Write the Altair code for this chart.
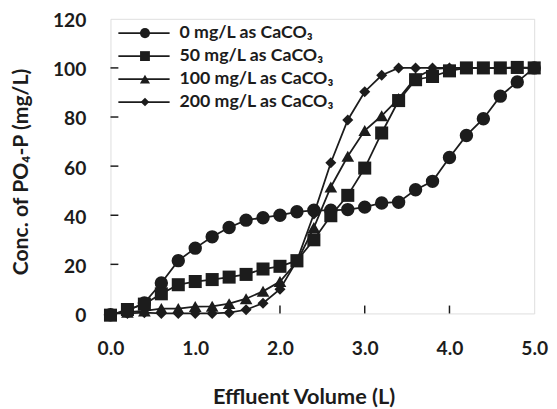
import altair as alt
import pandas as pd

# ---------------- data ----------------
volume = [0.0, 0.2, 0.4, 0.6, 0.8, 1.0, 1.2, 1.4, 1.6, 1.8, 2.0, 2.2, 2.4,
          2.6, 2.8, 3.0, 3.2, 3.4, 3.6, 3.8, 4.0, 4.2, 4.4, 4.6, 4.8, 5.0]

series_names = ["0 mg/L as CaCO₃", "50 mg/L as CaCO₃",
                "100 mg/L as CaCO₃", "200 mg/L as CaCO₃"]

conc_0 = [-0.5, 1.0, 4.3, 12.4, 21.5, 26.6, 31.2, 35.0, 38.0, 39.0, 40.0, 41.4, 42.0,
          42.0, 42.3, 43.3, 45.0, 45.3, 50.4, 53.8, 63.5, 72.5, 79.3, 88.5, 94.3, 100.0]
conc_50 = [-0.7, 1.6, 3.8, 8.0, 11.7, 13.0, 13.8, 14.8, 15.9, 18.1, 19.2, 21.5, 30.0,
           39.8, 48.1, 59.2, 73.5, 86.7, 95.2, 96.5, 98.8, 100.0, 100.0, 100.0, 100.2, 100.0]
conc_100 = [0.0, 0.5, 1.0, 2.0, 2.0, 2.8, 2.9, 4.0, 6.0, 9.0, 13.0, 21.0, 35.0,
            51.5, 64.0, 74.5, 80.5, 87.5, 96.0, 99.5, 100.0, 100.0, 100.0, 100.0, 100.0, 100.0]
conc_200 = [0.0, 0.0, 0.3, 0.0, 0.0, 0.0, 0.0, 0.3, 1.5, 4.2, 9.9, 21.5, 40.5,
            61.4, 78.8, 90.3, 97.0, 100.0, 100.0, 100.0, 100.0, 100.0, 100.0, 100.0, 100.0, 100.0]

x_ticks = [0.0, 1.0, 2.0, 3.0, 4.0, 5.0]
y_ticks = [0, 20, 40, 60, 80, 100, 120]
x_inner_ticks = [1.0, 2.0, 3.0, 4.0]
y_inner_ticks = [20, 40, 60, 80, 100]

# ---------------- styling ----------------
INK = "#1c1c1c"
FONT = "Lato"
W, H = 430, 299

series_values = [conc_0, conc_50, conc_100, conc_200]
shapes = {series_names[0]: "circle", series_names[1]: "square",
          series_names[2]: "triangle-up", series_names[3]: "diamond"}
sizes = {series_names[0]: 185, series_names[1]: 175,
         series_names[2]: 165, series_names[3]: 125}
legend_sizes = {series_names[0]: 105, series_names[1]: 100,
                series_names[2]: 105, series_names[3]: 75}

rows = []
for name, vals in zip(series_names, series_values):
    for v, c in zip(volume, vals):
        rows.append({"series": name, "volume": v, "conc": c})
df = pd.DataFrame(rows)

x_scale = alt.Scale(domain=[0, 5], nice=False, zero=False)
y_scale = alt.Scale(domain=[0, 120], nice=False, zero=False)

x_axis = alt.Axis(values=x_ticks, format=".1f", grid=False, domain=False,
                  ticks=False, tickSize=0, labelFont=FONT, labelFontWeight="bold",
                  labelFontSize=19.5, labelColor=INK, labelBaseline="alphabetic",
                  labelPadding=42, labelFlush=False, labelOverlap=False,
                  title="Effluent Volume (L)", titleFont=FONT, titleFontSize=22,
                  titleFontWeight="bold", titleColor=INK, titleBaseline="alphabetic",
                  titleAlign="center", titleX=196, titleY=91.5)
y_axis = alt.Axis(values=y_ticks, format="d", grid=False, domain=False,
                  ticks=False, tickSize=0, labelFont=FONT, labelFontWeight="bold",
                  labelFontSize=19.5, labelColor=INK, labelBaseline="middle",
                  labelOffset=2, labelPadding=25, labelFlush=False,
                  labelOverlap=False,
                  title="Conc. of PO₄-P (mg/L)", titleFont=FONT, titleFontSize=21.5,
                  titleFontWeight="bold", titleColor=INK, titleAngle=270,
                  titleBaseline="alphabetic", titleAlign="center",
                  titleX=-84, titleY=155)


def X(field):
    return alt.X(field, scale=x_scale, axis=x_axis)


def Y(field):
    return alt.Y(field, scale=y_scale, axis=y_axis)


# inward tick marks
x_tick_layer = alt.Chart(pd.DataFrame({"volume": x_inner_ticks})).mark_rule(
    color=INK, strokeWidth=1.5
).encode(x=X("volume:Q"), y=alt.value(H), y2=alt.value(H - 8))
y_tick_layer = alt.Chart(pd.DataFrame({"conc": y_inner_ticks})).mark_rule(
    color=INK, strokeWidth=1.5
).encode(y=Y("conc:Q"), x=alt.value(0), x2=alt.value(8))

draw_order = [series_names[0], series_names[3], series_names[2], series_names[1]]
series_layers = []
for name in draw_order:
    sub = df[df["series"] == name]
    line = alt.Chart(sub).mark_line(color=INK, strokeWidth=1.8, clip=False).encode(
        x=X("volume:Q"), y=Y("conc:Q"),
    )
    pts = alt.Chart(sub).mark_point(
        shape=shapes[name], size=sizes[name], filled=True, color=INK, opacity=1
    ).encode(x=X("volume:Q"), y=Y("conc:Q"))
    series_layers += [line, pts]

main = alt.layer(x_tick_layer, y_tick_layer, *series_layers)

# ---------------- legend (inside plot, top-left) ----------------
leg_df = pd.DataFrame({"series": series_names})
leg_y = alt.Y("series:N", axis=None,
              scale=alt.Scale(type="point", domain=series_names,
                              range=[14.5, 84.5], padding=0))
leg_lines = alt.Chart(leg_df).mark_rule(color=INK, strokeWidth=1.8).encode(
    y=leg_y, x=alt.value(8), x2=alt.value(60)
)
leg_marks = []
for name in series_names:
    leg_marks.append(
        alt.Chart(leg_df[leg_df["series"] == name]).mark_point(
            shape=shapes[name], size=legend_sizes[name], filled=True,
            color=INK, opacity=1
        ).encode(y=leg_y, x=alt.value(35))
    )
leg_text = alt.Chart(leg_df).mark_text(
    align="left", baseline="middle", font=FONT, fontSize=18,
    fontWeight="bold", color=INK
).encode(y=leg_y, x=alt.value(70), text="series:N")

legend = alt.layer(leg_lines, *leg_marks, leg_text)

chart = alt.layer(main, legend).resolve_scale(y="independent").properties(
    width=W, height=H,
    autosize=alt.AutoSizeParams(type="none"),
    padding={"left": 104, "top": 8, "right": 15, "bottom": 94},
).configure_view(stroke=INK, strokeWidth=1.5).configure(background="white")

chart.save("out.html", embed_options={"renderer": "svg", "actions": False})
